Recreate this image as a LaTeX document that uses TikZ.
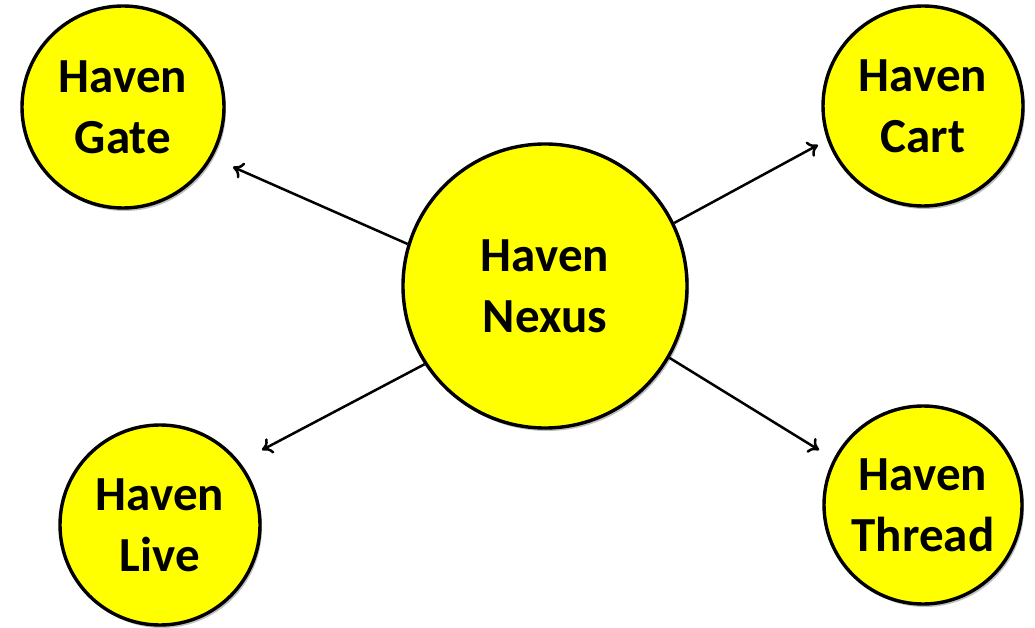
\documentclass[tikz,border=0pt]{standalone}
\usepackage{fontspec}
\setmainfont{Carlito}
\usetikzlibrary{arrows.meta,shadows}
\definecolor{hyellow}{RGB}{255,255,0}
\tikzset{
  bubble/.style={circle, draw=black, line width=3.4pt, fill=hyellow, inner sep=0pt,
    align=center, font=\fontsize{49}{61}\selectfont\bfseries,
    drop shadow={shadow xshift=2pt, shadow yshift=-3pt, opacity=0.25, fill=black}},
  arr/.style={line width=2.5pt, -{To[length=10pt,width=17pt,line width=2.5pt]}}
}
\begin{document}
\begin{tikzpicture}[x=1pt,y=-1pt]
\useasboundingbox (0,0) rectangle (1035,628);
\node[bubble, minimum size=284pt] (nexus) at (545,286) {Haven\\Nexus};
\node[bubble, minimum size=202pt] (gate) at (123,107) {Haven\\Gate};
\node[bubble, minimum size=200pt] (cart) at (923,106) {Haven\\Cart};
\node[bubble, minimum size=200pt] (live) at (160,525) {Haven\\Live};
\node[bubble, minimum size=198pt] (thread) at (923,505) {Haven\\Thread};
\coordinate (gtip) at (233,167);
\coordinate (ctip) at (818,145);
\coordinate (ltip) at (262,450);
\coordinate (ttip) at (819,450);
\draw[arr] (nexus.163.5) -- (gtip);
\draw[arr] (nexus.26.9) -- (ctip);
\draw[arr] (nexus.213.4) -- (ltip);
\draw[arr] (nexus.330.4) -- (ttip);
\end{tikzpicture}
\end{document}
